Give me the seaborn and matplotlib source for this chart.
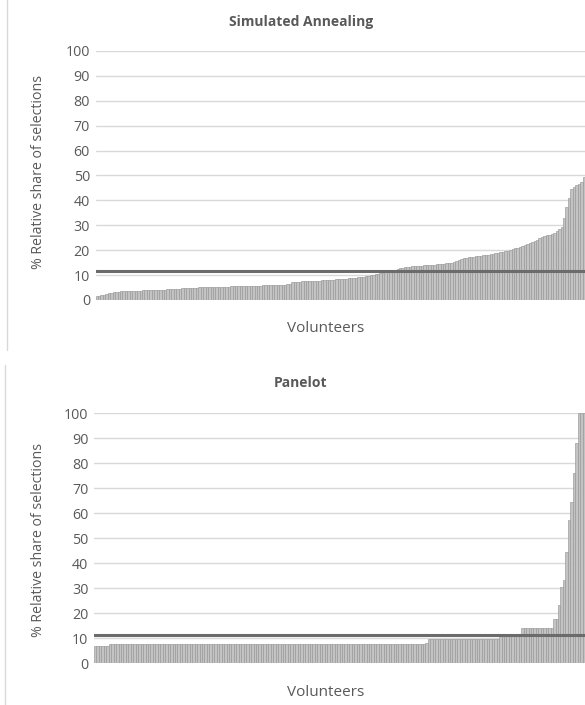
"""
Sorted share of selections per volunteer: Simulated Annealing vs Panelot.
Two stacked bar panels, one thin bar per volunteer, with a reference line.
"""

import matplotlib
matplotlib.use("Agg")
import matplotlib.pyplot as plt
import seaborn as sns
import pandas as pd

# Data (sorted ascending per panel)
sa_values = [
    1.6, 1.8, 2.0, 2.2, 2.5, 2.8, 3.0, 3.2, 3.3, 3.4,
    3.5, 3.6, 3.6, 3.7, 3.7, 3.7, 3.8, 3.8, 3.8, 3.9,
    3.9, 3.9, 4.0, 4.0, 4.0, 4.1, 4.1, 4.2, 4.2, 4.3,
    4.3, 4.4, 4.5, 4.5, 4.6, 4.7, 4.7, 4.8, 4.9, 4.9,
    5.0, 5.0, 5.1, 5.1, 5.1, 5.2, 5.2, 5.2, 5.3, 5.3,
    5.3, 5.4, 5.4, 5.4, 5.4, 5.5, 5.5, 5.5, 5.6, 5.6,
    5.6, 5.6, 5.7, 5.7, 5.7, 5.8, 5.8, 5.8, 5.9, 5.9,
    6.0, 6.0, 6.0, 6.1, 6.1, 6.1, 6.2, 6.2, 6.3, 6.3,
    7.2, 7.3, 7.4, 7.4, 7.5, 7.5, 7.6, 7.6, 7.7, 7.7,
    7.8, 7.8, 7.9, 7.9, 8.0, 8.0, 8.1, 8.2, 8.3, 8.4,
    8.5, 8.6, 8.6, 8.7, 8.8, 8.9, 9.0, 9.1, 9.2, 9.3,
    9.5, 9.7, 9.9, 10.1, 10.3, 10.5, 10.7, 10.9, 11.1, 11.4,
    11.6, 11.9, 12.2, 12.4, 12.7, 12.9, 13.1, 13.2, 13.4, 13.5,
    13.6, 13.7, 13.7, 13.8, 13.9, 14.0, 14.0, 14.1, 14.2, 14.3,
    14.4, 14.5, 14.6, 14.7, 14.8, 15.0, 15.3, 15.6, 16.0, 16.4,
    16.7, 16.9, 17.1, 17.2, 17.4, 17.5, 17.6, 17.7, 17.9, 18.0,
    18.2, 18.4, 18.6, 18.8, 18.9, 19.1, 19.3, 19.5, 19.8, 20.1,
    20.4, 20.7, 21.0, 21.3, 21.6, 22.0, 22.4, 22.8, 23.2, 23.7,
    24.2, 24.7, 25.2, 25.7, 26.0, 26.2, 26.5, 27.0, 27.8, 28.6,
    29.4, 33.0, 37.5, 41.0, 44.5, 45.5, 46.0, 46.5, 47.5, 49.5,
]

panelot_values = (
    [6.9] * 6
    + [7.6] * 129
    + [8.2]
    + [9.6] * 29
    + [11.0] * 9
    + [14.3] * 13
    + [17.6, 17.6, 23.3, 30.7, 33.3, 44.7, 57.3, 64.7, 76.0, 88.0]
    + [100.0, 100.0, 100.0]
)

reference_share = 11.5  # horizontal line drawn in both panels

panel_titles = ["Simulated Annealing", "Panelot"]
y_ticks = list(range(0, 101, 10))
x_label = "Volunteers"
y_label = "% Relative share of selections"

TEXT_COLOR = "#595959"
BAR_FILL = "#c3c3c3"
BAR_EDGE = "#979797"
GRID_COLOR = "#d9d9d9"
LINE_COLOR = "#6b6b6b"


def draw_panel(fig, rect, values, title, title_y, xlabel_y, ylabel_y, border_x, border_span):
    ax = fig.add_axes(rect)
    df = pd.DataFrame({"volunteer": range(len(values)), "share": values})
    sns.barplot(data=df, x="volunteer", y="share", color=BAR_FILL, width=1.0,
                edgecolor=BAR_EDGE, linewidth=0.45, saturation=1, ax=ax, zorder=2)
    ax.axhline(reference_share, color=LINE_COLOR, lw=2.2, zorder=3)

    ax.set_xlim(-0.5, len(values) - 0.5)
    ax.set_ylim(0, 100)
    ax.set_yticks(y_ticks)
    ax.set_yticklabels([str(t) for t in y_ticks])
    ax.set_xticks([])
    ax.tick_params(axis="y", length=0, pad=4, labelsize=10.3, labelcolor=TEXT_COLOR)
    ax.grid(axis="y", color=GRID_COLOR, lw=1.0, zorder=0)
    ax.set_axisbelow(True)
    for spine in ax.spines.values():
        spine.set_visible(False)
    ax.set_xlabel("")
    ax.set_ylabel("")

    fig.text(301 / 585, title_y, title, ha="center", va="center",
             fontsize=10, fontweight="bold", color=TEXT_COLOR)
    fig.text(326 / 585, xlabel_y, x_label, ha="center", va="center",
             fontsize=11, color=TEXT_COLOR)
    fig.text(39 / 585, ylabel_y, y_label, ha="center", va="center",
             rotation=90, fontsize=10.2, color=TEXT_COLOR)

    # thin chart-area border on the left
    fig.add_artist(plt.Line2D([border_x, border_x], border_span,
                              transform=fig.transFigure, color=GRID_COLOR, lw=1.0))
    return ax


def main():
    sns.set_theme(style="white")
    plt.rcParams["font.family"] = ["Open Sans", "DejaVu Sans"]

    fig = plt.figure(figsize=(5.85, 7.05), dpi=100)
    H = 705.0

    # top panel: y=0 at px 300, y=100 at px 51
    draw_panel(fig, [95.5 / 585, (H - 300) / H, 1 - 95.5 / 585, 249 / H],
               sa_values, panel_titles[0],
               title_y=(H - 22) / H, xlabel_y=(H - 329) / H, ylabel_y=(H - 172) / H,
               border_x=7 / 585, border_span=[(H - 350) / H, 1.0])

    # bottom panel: y=0 at px 663, y=100 at px 413
    draw_panel(fig, [94 / 585, (H - 663.3) / H, 1 - 94 / 585, 250 / H],
               panelot_values, panel_titles[1],
               title_y=(H - 383) / H, xlabel_y=(H - 692) / H, ylabel_y=(H - 540) / H,
               border_x=5 / 585, border_span=[0.0, (H - 365) / H])

    fig.savefig("out.png", dpi=100, facecolor="white")
    plt.close(fig)


if __name__ == "__main__":
    main()
